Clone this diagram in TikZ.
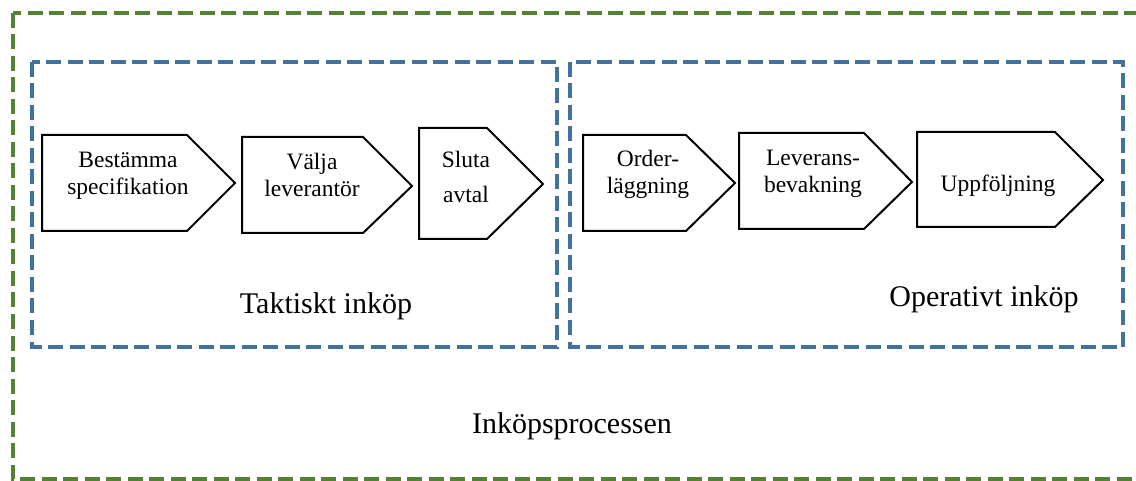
\documentclass[tikz,border=0pt]{standalone}
\usepackage{fontspec}
\setmainfont{Liberation Serif}
\definecolor{outergreen}{RGB}{84,130,53}
\definecolor{innerblue}{RGB}{65,113,156}
\tikzset{
  greenbox/.style={draw=outergreen, line width=4pt, dash pattern=on 15pt off 6.5pt},
  bluebox/.style={draw=innerblue, line width=4pt, dash pattern=on 15pt off 6.5pt},
  chevron/.style={draw=black, line width=2pt, fill=white, line join=miter},
  steptext/.style={inner sep=0pt, align=center, anchor=base, font=\fontsize{23.5}{27.5}\selectfont},
  grouplabel/.style={inner sep=0pt, anchor=base, font=\fontsize{30}{34}\selectfont}
}
\begin{document}
\begin{tikzpicture}[x=1pt,y=-1pt]
\useasboundingbox (0,0) rectangle (1136,481);
\fill[white] (0,0) rectangle (1136,481);
% outer green box (right edge cut off)
\draw[greenbox] (13,13) rectangle (1142,479);
% blue boxes
\draw[bluebox] (32,62) rectangle (557,347);
\draw[bluebox] (570,62) rectangle (1123,347);
% chevrons
\draw[chevron] (42,135) -- (187,135) -- (235,183) -- (187,231) -- (42,231) -- cycle;
\draw[chevron] (242,137) -- (363,137) -- (412,186) -- (363,233) -- (242,233) -- cycle;
\draw[chevron] (419,128) -- (487,128) -- (543,184) -- (487,239) -- (419,239) -- cycle;
\draw[chevron] (583,135) -- (686,135) -- (735,183) -- (686,231) -- (583,231) -- cycle;
\draw[chevron] (739,133) -- (864,133) -- (912,182) -- (864,229) -- (739,229) -- cycle;
\draw[chevron] (917,132) -- (1055,132) -- (1103,180) -- (1055,227) -- (917,227) -- cycle;
% chevron texts (base = baseline of last line)
\node[steptext] (t1) at (128,195) {Bestämma\\specifikation};
\node[steptext] (t2) at (312,197) {Välja\\leverantör};
\node[steptext, font=\fontsize{23.5}{35}\selectfont] (t3) at (466,203) {Sluta\\avtal};
\node[steptext] (t4) at (648,194) {Order-\\läggning};
\node[steptext] (t5) at (813,193) {Leverans-\\bevakning};
\node[steptext] (t6) at (998,192) {Uppföljning};
% group labels
\node[grouplabel] (taktiskt) at (326,313) {Taktiskt inköp};
\node[grouplabel] (operativt) at (984,306) {Operativt inköp};
\node[grouplabel] (process) at (572,433) {Inköpsprocessen};
\end{tikzpicture}
\end{document}
